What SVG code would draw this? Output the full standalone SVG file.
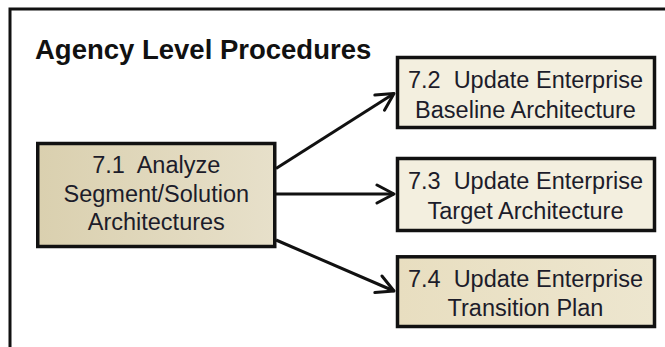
<svg xmlns="http://www.w3.org/2000/svg" width="665" height="347" viewBox="0 0 665 347">
  <style>
    .frame { fill: none; stroke: #111; stroke-width: 3; }
    .title { font-family: "Liberation Sans", Arial, sans-serif; font-weight: bold; font-size: 27.5px; fill: #111; }
    .box { stroke: #111; stroke-width: 3.5; }
    .label { font-family: "Liberation Sans", Arial, sans-serif; font-size: 23.5px; fill: #1c1c2a; text-anchor: middle; white-space: pre; }
    .link { fill: none; stroke: #111; stroke-width: 3; marker-end: url(#open-arrow); }
  </style>
  <defs>
    <linearGradient id="tan" x1="0" y1="0" x2="1" y2="0">
      <stop offset="0" stop-color="#dad0af"/>
      <stop offset="1" stop-color="#e7e0ca"/>
    </linearGradient>
    <linearGradient id="tan-light" x1="0" y1="0" x2="1" y2="0">
      <stop offset="0" stop-color="#e8dec0"/>
      <stop offset="1" stop-color="#ede6cf"/>
    </linearGradient>
    <marker id="open-arrow" viewBox="0 0 22 22" refX="20" refY="11" markerWidth="22" markerHeight="22" markerUnits="userSpaceOnUse" orient="auto">
      <path d="M3,2 L20,11 L3,20" fill="none" stroke="#111" stroke-width="3" stroke-linejoin="round" stroke-linecap="round"/>
    </marker>
  </defs>

  <rect class="frame" x="10" y="9" width="720" height="400"/>
  <text class="title" x="35" y="59">Agency Level Procedures</text>

  <g id="connectors">
    <line class="link" x1="276" y1="168.5" x2="394" y2="93.5"/>
    <line class="link" x1="276" y1="194" x2="394" y2="194"/>
    <line class="link" x1="276" y1="240" x2="394" y2="291"/>
  </g>

  <g id="analyze">
    <rect class="box" x="37.75" y="143.5" width="237" height="103" fill="url(#tan)"/>
    <text class="label" x="156.3" y="173.3" xml:space="preserve">7.1  Analyze</text>
    <text class="label" x="156.3" y="201.7">Segment/Solution</text>
    <text class="label" x="156.3" y="229.8">Architectures</text>
  </g>

  <g id="baseline">
    <rect class="box" x="397.5" y="57.5" width="257" height="70" fill="#f3efdf"/>
    <text class="label" x="525.5" y="88.3" xml:space="preserve">7.2  Update Enterprise</text>
    <text class="label" x="525.5" y="117.5">Baseline Architecture</text>
  </g>

  <g id="target">
    <rect class="box" x="397.5" y="158.5" width="257" height="72" fill="#f3efdf"/>
    <text class="label" x="525.5" y="188.8" xml:space="preserve">7.3  Update Enterprise</text>
    <text class="label" x="525.5" y="218.5">Target Architecture</text>
  </g>

  <g id="transition">
    <rect class="box" x="397.5" y="256.8" width="257" height="69.7" fill="url(#tan-light)"/>
    <text class="label" x="525.5" y="286.6" xml:space="preserve">7.4  Update Enterprise</text>
    <text class="label" x="525.5" y="315.5">Transition Plan</text>
  </g>
</svg>
